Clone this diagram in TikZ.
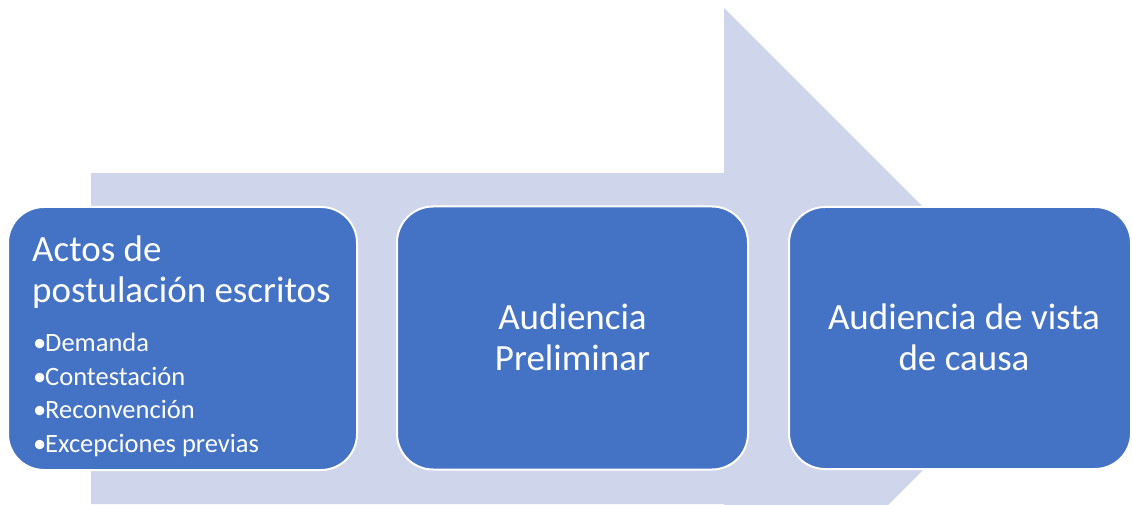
\documentclass[tikz,border=0pt]{standalone}
\usepackage{fontspec}
\setmainfont{Carlito}
\definecolor{boxblue}{HTML}{4472C4}
\definecolor{arrowfill}{HTML}{CFD5EA}
\newcommand{\itembul}{\makebox[12pt][l]{•}}
\tikzset{
  stagebox/.style={fill=boxblue, draw=white, line width=2pt, rounded corners=36pt, inner sep=0pt},
  bigtext/.style={anchor=base, text=white, inner sep=0pt, font=\fontsize{37}{41}\selectfont},
  titletext/.style={anchor=base west, text=white, inner sep=0pt, font=\fontsize{37}{41}\selectfont},
  itemtext/.style={anchor=base west, text=white, inner sep=0pt, font=\fontsize{26.5}{32}\selectfont}
}
\begin{document}
\begin{tikzpicture}[x=1pt,y=-1pt]
\useasboundingbox (0,0) rectangle (1132,505);
\clip (0,0) rectangle (1132,505);
% big background arrow
\fill[arrowfill] (91,173) -- (724,173) -- (724,8) -- (1054.5,338.5) -- (724,669) -- (724,504) -- (91,504) -- cycle;
% stage boxes
\node[stagebox, minimum width=349pt, minimum height=263pt] (b1) at (182.5,338.5) {};
\node[stagebox, minimum width=351pt, minimum height=263pt] (b2) at (572.5,338) {};
\node[stagebox, minimum width=342pt, minimum height=262pt] (b3) at (960,338) {};
% box 1 text
\node[titletext] (t1a) at (32,261) {Actos de};
\node[titletext] (t1b) at (32,302) {postulación escritos};
\node[itemtext] (i1) at (33,351) {\itembul Demanda};
\node[itemtext] (i2) at (33,385) {\itembul Contestación};
\node[itemtext] (i3) at (33,418) {\itembul Reconvención};
\node[itemtext] (i4) at (33,452) {\itembul Excepciones previas};
% box 2 text
\node[bigtext] (t2a) at (572.5,329) {Audiencia};
\node[bigtext] (t2b) at (572.5,370) {Preliminar};
% box 3 text
\node[bigtext] (t3a) at (964,329) {Audiencia de vista};
\node[bigtext] (t3b) at (964,370) {de causa};
\end{tikzpicture}
\end{document}
